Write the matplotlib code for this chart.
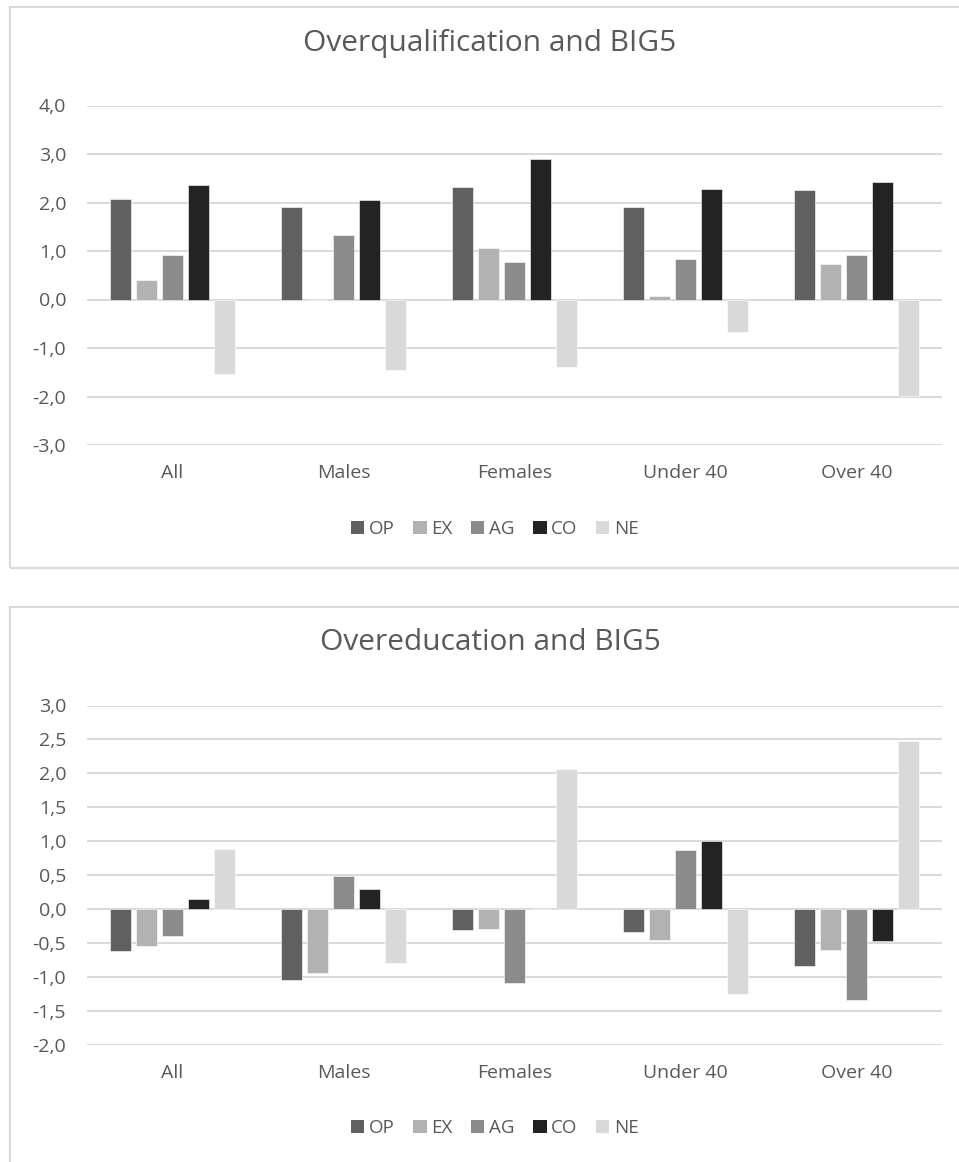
import matplotlib.pyplot as plt
import numpy as np
from matplotlib.patches import Rectangle, Patch

plt.rcParams['font.family'] = ['Open Sans', 'DejaVu Sans']

groups = ['All', 'Males', 'Females', 'Under 40', 'Over 40']
traits = ['OP', 'EX', 'AG', 'CO', 'NE']
trait_colors = ['#606060', '#b2b2b2', '#8b8b8b', '#232323', '#d9d9d9']

# overqualification coefficients, one list per trait (All, Males, Females, Under 40, Over 40)
oq_op = [2.08, 1.91, 2.31, 1.91, 2.26]
oq_ex = [0.41, 0.00, 1.07, 0.07, 0.73]
oq_ag = [0.92, 1.34, 0.78, 0.84, 0.92]
oq_co = [2.36, 2.05, 2.89, 2.27, 2.42]
oq_ne = [-1.53, -1.45, -1.40, -0.66, -1.98]

# overeducation coefficients
oe_op = [-0.62, -1.05, -0.31, -0.34, -0.83]
oe_ex = [-0.54, -0.94, -0.29, -0.45, -0.60]
oe_ag = [-0.39, 0.49, -1.09, 0.87, -1.33]
oe_co = [0.15, 0.30, 0.00, 1.00, -0.47]
oe_ne = [0.88, -0.79, 2.07, -1.25, 2.48]

W, H = 959, 1162
TXT = '#595959'
GRID = '#d9d9d9'

fig = plt.figure(figsize=(W / 100, H / 100), dpi=100)


def px_axes(left, top, right, bottom):
    return fig.add_axes([left / W, 1 - bottom / H, (right - left) / W, (bottom - top) / H])


def panel(top, bottom, title, title_y, legend_y, series, ylim, step):
    fig.patches.append(Rectangle((10 / W, 1 - bottom / H), (970 - 10) / W, (bottom - top) / H,
                                 transform=fig.transFigure, fill=False,
                                 edgecolor=GRID, linewidth=1.5))
    ax = px_axes(87, top + 98.5, 942, top + 438)
    x = np.arange(len(groups))
    stride, width = 0.152, 0.123
    for i, (vals, c) in enumerate(zip(series, trait_colors)):
        ax.bar(x + (i - 2) * stride, vals, width, color=c, edgecolor='white',
               linewidth=0.4, zorder=3)
    ax.set_xlim(-0.5, len(groups) - 0.5)
    ax.set_ylim(*ylim)
    ticks = np.arange(ylim[0], ylim[1] + step / 2, step)
    ax.set_yticks(ticks)
    ax.set_yticklabels(['{:.1f}'.format(t).replace('.', ',') for t in ticks])
    ax.set_xticks(x)
    ax.set_xticklabels(groups)
    ax.grid(axis='y', color=GRID, linewidth=1.4, zorder=0)
    ax.set_axisbelow(True)
    for s in ax.spines.values():
        s.set_visible(False)
    ax.tick_params(axis='both', length=0, colors=TXT, labelsize=14)
    ax.tick_params(axis='y', pad=15)
    ax.tick_params(axis='x', pad=14)
    fig.text(490 / W, 1 - title_y / H, title, ha='center', va='center',
             fontsize=21.5, color=TXT)
    handles = [Patch(facecolor=c, edgecolor='none', label=t) for t, c in zip(traits, trait_colors)]
    fig.legend(handles=handles, loc='center', bbox_to_anchor=(495 / W, 1 - legend_y / H),
               ncol=5, frameon=False, fontsize=13.5, handlelength=0.7, handleheight=0.7,
               handletextpad=0.25, columnspacing=1.0, labelcolor=TXT)
    return ax


panel(7, 568, 'Overqualification and BIG5', 43, 529,
      [oq_op, oq_ex, oq_ag, oq_co, oq_ne], (-3.0, 4.0), 1.0)
panel(607, 1170, 'Overeducation and BIG5', 643, 1128,
      [oe_op, oe_ex, oe_ag, oe_co, oe_ne], (-2.0, 3.0), 0.5)

fig.savefig('out.png', dpi=100)
